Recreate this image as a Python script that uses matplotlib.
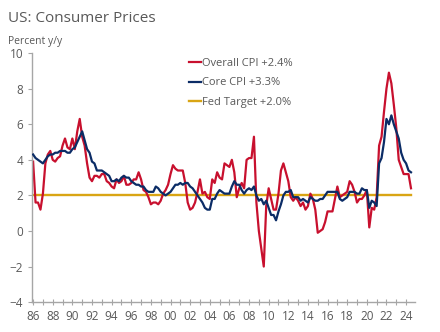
import numpy as np
import matplotlib
matplotlib.use("Agg")
import matplotlib.pyplot as plt
from matplotlib.ticker import MultipleLocator, FixedLocator

plt.rcParams['font.family'] = ['Open Sans', 'DejaVu Sans']

# quarterly y/y inflation, 1986Q1 .. 2024Q3
start_year = 1986
overall_cpi = [
    3.9, 1.6, 1.6, 1.2,   # 86
    2.1, 3.8, 4.3, 4.5,   # 87
    4.0, 3.9, 4.1, 4.2,   # 88
    4.8, 5.2, 4.7, 4.6,   # 89
    5.2, 4.6, 5.6, 6.3,   # 90
    5.3, 4.8, 3.8, 3.0,   # 91
    2.8, 3.1, 3.1, 3.0,   # 92
    3.2, 3.2, 2.8, 2.7,   # 93
    2.5, 2.4, 2.9, 2.7,   # 94
    2.8, 3.1, 2.6, 2.6,   # 95
    2.7, 2.9, 2.9, 3.3,   # 96
    2.9, 2.3, 2.2, 1.9,   # 97
    1.5, 1.6, 1.6, 1.5,   # 98
    1.7, 2.1, 2.3, 2.6,   # 99
    3.2, 3.7, 3.5, 3.4,   # 00
    3.4, 3.4, 2.7, 1.6,   # 01
    1.2, 1.3, 1.6, 2.2,   # 02
    2.9, 2.1, 2.2, 1.9,   # 03
    1.8, 2.9, 2.7, 3.3,   # 04
    3.0, 2.9, 3.8, 3.7,   # 05
    3.6, 4.0, 3.3, 1.9,   # 06
    2.4, 2.7, 2.4, 4.0,   # 07
    4.1, 4.1, 5.3, 1.6,   # 08
    0.0, -1.0, -2.0, 1.4, # 09
    2.4, 1.8, 1.2, 1.2,   # 10
    2.1, 3.4, 3.8, 3.3,   # 11
    2.8, 1.9, 1.7, 1.9,   # 12
    1.7, 1.4, 1.6, 1.2,   # 13
    1.4, 2.1, 1.8, 1.2,   # 14
    -0.1, 0.0, 0.1, 0.5,  # 15
    1.1, 1.1, 1.1, 1.8,   # 16
    2.5, 1.9, 2.0, 2.1,   # 17
    2.2, 2.8, 2.6, 2.2,   # 18
    1.6, 1.8, 1.8, 2.0,   # 19
    2.3, 0.2, 1.3, 1.2,   # 20
    1.9, 4.8, 5.3, 6.7,   # 21
    8.0, 8.9, 8.3, 7.1,   # 22
    5.8, 4.0, 3.6, 3.2,   # 23
    3.2, 3.2, 2.4,        # 24
]
core_cpi = [
    4.3, 4.1, 4.0, 3.9,   # 86
    3.8, 4.0, 4.2, 4.3,   # 87
    4.3, 4.4, 4.4, 4.5,   # 88
    4.5, 4.5, 4.4, 4.4,   # 89
    4.6, 4.7, 5.0, 5.3,   # 90
    5.6, 5.1, 4.6, 4.4,   # 91
    3.9, 3.8, 3.4, 3.4,   # 92
    3.4, 3.3, 3.2, 3.1,   # 93
    2.8, 2.8, 2.9, 2.8,   # 94
    3.0, 3.1, 3.0, 3.0,   # 95
    2.8, 2.7, 2.6, 2.6,   # 96
    2.5, 2.5, 2.3, 2.2,   # 97
    2.2, 2.2, 2.5, 2.4,   # 98
    2.2, 2.1, 2.0, 2.1,   # 99
    2.2, 2.4, 2.6, 2.6,   # 00
    2.7, 2.6, 2.7, 2.7,   # 01
    2.5, 2.4, 2.2, 2.0,   # 02
    1.8, 1.6, 1.3, 1.2,   # 03
    1.2, 1.8, 1.8, 2.1,   # 04
    2.3, 2.2, 2.1, 2.1,   # 05
    2.1, 2.5, 2.8, 2.6,   # 06
    2.6, 2.3, 2.1, 2.3,   # 07
    2.4, 2.3, 2.5, 2.0,   # 08
    1.7, 1.8, 1.5, 1.7,   # 09
    1.3, 0.9, 0.9, 0.6,   # 10
    1.1, 1.5, 2.0, 2.2,   # 11
    2.2, 2.3, 1.9, 1.9,   # 12
    1.9, 1.7, 1.8, 1.7,   # 13
    1.6, 1.9, 1.8, 1.7,   # 14
    1.7, 1.8, 1.8, 2.0,   # 15
    2.2, 2.2, 2.2, 2.2,   # 16
    2.2, 1.8, 1.7, 1.8,   # 17
    1.9, 2.2, 2.2, 2.2,   # 18
    2.1, 2.1, 2.4, 2.3,   # 19
    2.3, 1.3, 1.7, 1.6,   # 20
    1.4, 3.8, 4.1, 5.0,   # 21
    6.3, 6.0, 6.5, 6.0,   # 22
    5.6, 5.2, 4.4, 4.0,   # 23
    3.8, 3.4, 3.3,        # 24
]
fed_target = 2.0
tick_labels = ['86', '88', '90', '92', '94', '96', '98', '00', '02', '04', '06',
               '08', '10', '12', '14', '16', '18', '20', '22', '24']

x_overall = start_year + np.arange(len(overall_cpi)) / 4
x_core = start_year + np.arange(len(core_cpi)) / 4

red = '#C8102E'
navy = '#0B2C66'
gold = '#D9A514'
grey = '#595959'

fig = plt.figure(figsize=(4.4, 3.32), dpi=100)
ax = fig.add_axes([0.073, 0.09, 0.87, 0.75])

ax.plot([start_year, x_overall[-1]], [fed_target, fed_target], color=gold, lw=1.7,
        label='Fed Target +2.0%', zorder=1)
ax.plot(x_overall, overall_cpi, color=red, lw=1.6, label='Overall CPI +2.4%', zorder=2)
ax.plot(x_core, core_cpi, color=navy, lw=1.6, label='Core CPI +3.3%', zorder=3)

ax.set_xlim(1985.9, 2024.9)
ax.set_ylim(-4, 10)
ax.yaxis.set_major_locator(MultipleLocator(2))
ax.xaxis.set_major_locator(FixedLocator(np.arange(1986, 2025, 2)))
ax.xaxis.set_minor_locator(FixedLocator(np.arange(1987, 2025, 2)))
ax.set_xticklabels(tick_labels)

for s in ['top', 'right']:
    ax.spines[s].set_visible(False)
for s in ['left', 'bottom']:
    ax.spines[s].set_color('#A6A6A6')
    ax.spines[s].set_linewidth(1.0)
ax.tick_params(axis='both', which='both', colors='#A6A6A6', labelcolor=grey,
               labelsize=8.5, length=3, width=0.8)
ax.tick_params(axis='x', which='both', direction='inout', length=4)

handles, labels = ax.get_legend_handles_labels()
order = [1, 2, 0]
ax.legend([handles[i] for i in order], [labels[i] for i in order],
          loc='upper left', bbox_to_anchor=(0.385, 1.02), frameon=False,
          fontsize=8, handlelength=1.0, handletextpad=0.1, labelspacing=0.75,
          labelcolor=grey)

fig.text(0.018, 0.935, 'US: Consumer Prices', fontsize=11, color=grey)
fig.text(0.018, 0.868, 'Percent y/y', fontsize=7.5, color=grey)

fig.savefig('out.png', dpi=100)
